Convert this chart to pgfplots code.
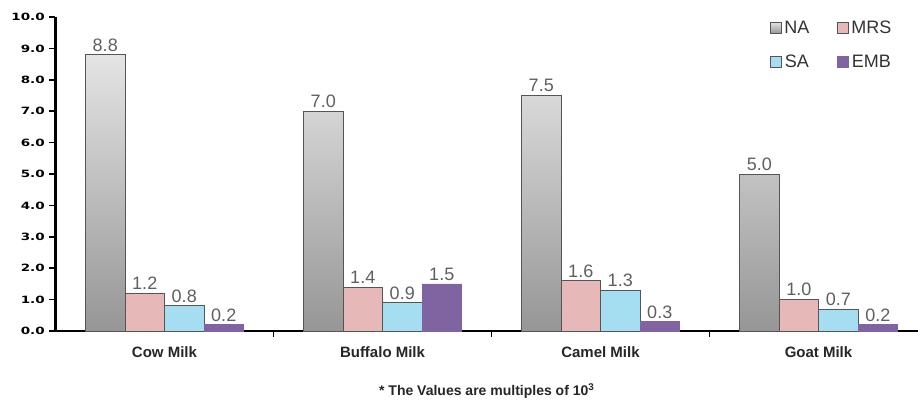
\documentclass[border=0pt]{standalone}
\usepackage{fontspec}
\setmainfont{Liberation Sans}
\newfontfamily\dejavu{DejaVu Sans}
\usepackage{pgfplots}
\pgfplotsset{compat=1.18}
\definecolor{natop}{RGB}{228,228,228}
\definecolor{namid}{RGB}{190,190,190}
\definecolor{nabot}{RGB}{150,150,150}
\definecolor{mrs}{RGB}{230,184,183}
\definecolor{sa}{RGB}{165,222,240}
\definecolor{emb}{RGB}{128,100,162}
\definecolor{edge}{RGB}{85,85,85}
\definecolor{val}{RGB}{95,95,95}
\begin{document}
\begin{tikzpicture}[x=1pt,y=1pt]
\useasboundingbox (-55.5,-71) rectangle (862.5,331);
\begin{axis}[
  at={(0pt,0pt)}, anchor=south west,
  scale only axis, width=862.5pt, height=314pt,
  xmin=-0.5, xmax=3.4564, ymin=0, ymax=10,
  axis lines=left, axis line style={-},
  x axis line style={line width=2pt, black},
  y axis line style={line width=2.5pt, black},
  ybar=0pt, bar width=39.5pt,
  tick align=outside, major tick length=6pt,
  ytick={0,1,...,10},
  ytick style={black, line width=1.5pt},
  yticklabel style={font=\dejavu\bfseries\fontsize{10}{10}\selectfont, xscale=1.35,
    /pgf/number format/.cd, fixed, fixed zerofill, precision=1, assume math mode=true},
  xtick={0.5,1.5,2.5}, xticklabels={},
  xtick style={black, line width=1.5pt},
  extra x ticks={0,1,2,3},
  extra x tick labels={Cow Milk,Buffalo Milk,Camel Milk,Goat Milk},
  extra x tick style={tick style={draw=none},
    tick label style={font=\bfseries\fontsize{15}{15}\selectfont, text=black!85, yshift=-6pt}},
  xlabel={* The Values are multiples of 10\textsuperscript{3}},
  xlabel style={at={(axis description cs:0.5,0)}, anchor=center, yshift=-60pt,
    font=\bfseries\fontsize{14}{14}\selectfont, text=black!85},
  nodes near coords={\pgfmathprintnumber[fixed,fixed zerofill,precision=1,assume math mode=true]{\pgfplotspointmeta}},
  every node near coord/.append style={font=\fontsize{18}{18}\selectfont, text=val, anchor=south, inner sep=3pt},
  legend columns=2,
  legend style={draw=none, fill=none, at={(axis description cs:0.825,1.0)}, anchor=north west,
    font=\fontsize{18}{18}\selectfont, text=black!80,
    /tikz/every even column/.append style={column sep=26pt},
    /tikz/every odd column/.append style={column sep=0pt},
    row sep=16pt},
  legend image code/.code={\draw[#1, line width=1pt] (0pt,-5pt) rectangle (11pt,6pt);},
]
\addplot[draw=edge, line width=1pt, top color=natop, middle color=namid, bottom color=nabot]
  coordinates {(0,8.8) (1,7.0) (2,7.5) (3,5.0)};
\addplot[draw=edge, line width=1pt, fill=mrs]
  coordinates {(0,1.2) (1,1.4) (2,1.6) (3,1.0)};
\addplot[draw=edge, line width=1pt, fill=sa]
  coordinates {(0,0.8) (1,0.9) (2,1.3) (3,0.7)};
\addplot[draw=emb, line width=0.5pt, fill=emb]
  coordinates {(0,0.2) (1,1.5) (2,0.3) (3,0.2)};
\legend{NA,MRS,SA,EMB}
\end{axis}
\end{tikzpicture}
\end{document}
